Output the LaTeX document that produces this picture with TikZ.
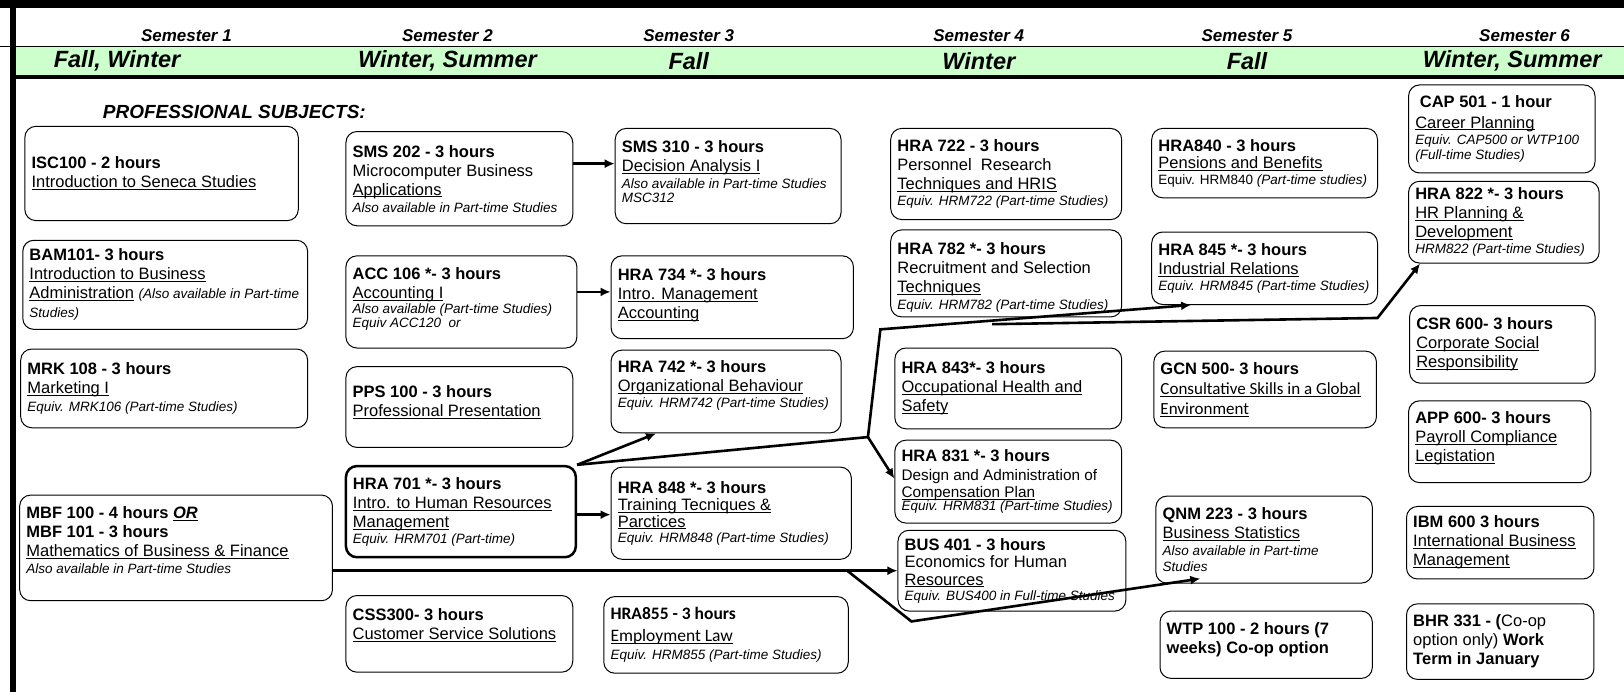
\documentclass[tikz,border=0pt]{standalone}
\usepackage{fontspec}
\setmainfont{Liberation Sans}
\newfontfamily\calibri{Carlito}
\usetikzlibrary{arrows.meta,fit}
\definecolor{bandgreen}{RGB}{204,255,204}
\newsavebox\ulbox
\newcommand\uline[1]{\sbox\ulbox{#1}\leavevmode\rlap{\usebox\ulbox}\rule[-2.3pt]{\wd\ulbox}{0.9pt}}
\def\course[#1](#2)(#3)(#4)#5{%
	\node[box,#1,fit={(#3) (#4)}] (#2) {};
	\node[txt,#1,draw=none] (#2-t) at ([xshift=7pt]#2.west) {#5};}
\newcommand\note[1]{{\fontsize{13.5}{15}\selectfont\rmfamily\itshape #1}}

\begin{document}
\begin{tikzpicture}[x=1.0357pt,y=-1.0357pt,
	box/.style={draw, rounded corners=11pt, line width=1pt, inner sep=0pt},
	txt/.style={anchor=west, align=left, inner sep=0pt, font=\fontsize{16.5}{19}\selectfont},
	arr/.style={line width=2.6pt, -{Latex[length=10pt,width=9pt]}},
	sem/.style={font=\fontsize{17}{19}\selectfont\bfseries\itshape},
	season/.style={font=\fontsize{23.5}{25}\selectfont\bfseries\itshape}]
			%%%%% START %%%%%
			\useasboundingbox (0,0) rectangle (1568,668);
			
			\fill[black] (0,0) rectangle (1568,8);
			\fill[bandgreen] (15,45) rectangle (1568,74);
			\draw[line width=1.5pt] (0,45) -- (1568,45);
			\draw[line width=4pt] (15,74.5) -- (1568,74.5);
			\fill[black] (10,0) rectangle (15,668);
			
			\node[sem] (sem1) at (180,34) {Semester 1};
			\node[sem] (sem2) at (432,34) {Semester 2};
			\node[sem] (sem3) at (665,34) {Semester 3};
			\node[sem] (sem4) at (945,34) {Semester 4};
			\node[sem] (sem5) at (1204,34) {Semester 5};
			\node[sem] (sem6) at (1472,34) {Semester 6};
			
			\node[season] (term1) at (113,59) {Fall, Winter};
			\node[season] (term2) at (432,59) {Winter, Summer};
			\node[season] (term3) at (665,59) {Fall};
			\node[season] (term4) at (945,59) {Winter};
			\node[season] (term5) at (1204,59) {Fall};
			\node[season] (term6) at (1460,59) {Winter, Summer};
			
			\node[anchor=west, font=\fontsize{19}{21}\selectfont\bfseries\itshape] (prof) at (96,108) {PROFESSIONAL SUBJECTS:};
			
			%%%%% SEMESTER 1 %%%%%
			\course[](isc)(24,122)(288,213){\textbf{ISC100 - 2 hours}\\\uline{Introduction to Seneca Studies}}
			\course[](bam)(22,232)(297,318){\textbf{BAM101- 3 hours}\\\uline{Introduction to Business}\\\uline{Administration} \note{(Also available in Part-time}\\\note{Studies)}}
			\course[](mrk)(20,337)(297,413){\textbf{MRK 108 - 3 hours}\\\uline{Marketing I}\\[-1.5pt]\note{Equiv. MRK106 (Part-time Studies)}}
			\course[](mbf)(19,478)(321,580){\textbf{MBF 100 - 4 hours \uline{\textit{OR}}}\\\textbf{MBF 101 - 3 hours}\\\uline{Mathematics of Business \& Finance}\\[-2pt]\note{Also available in Part-time Studies}\\[-3pt]\mbox{}}
			
			%%%%% SEMESTER 2 %%%%%
			\course[](sms202)(334,127)(553,218){\textbf{SMS 202 - 3 hours}\\Microcomputer Business\\\uline{Applications}\\[-2pt]\note{Also available in Part-time Studies}}
			\course[](acc)(334,247)(557,336){\textbf{ACC 106 *- 3 hours}\\\uline{Accounting I}\\[-4.5pt]\note{Also available (Part-time Studies)}\\[-4.5pt]\note{Equiv ACC120 \ or}\\[-11pt]\mbox{}}
			\course[](pps)(334,354)(553,432){\textbf{PPS 100 - 3 hours}\\\uline{Professional Presentation}\\[-7pt]\mbox{}}
			\course[line width=2.5pt](hra701)(334,450)(556,538){\textbf{HRA 701 *- 3 hours}\\\uline{Intro. to Human Resources}\\\uline{Management}\\[-3pt]\note{Equiv. HRM701 (Part-time)}}
			\course[](css)(334,575)(553,649){\textbf{CSS300- 3 hours}\\\uline{Customer Service Solutions}\\\mbox{}}
			
			%%%%% SEMESTER 3 %%%%%
			\course[](sms310)(594,124)(812,216){\textbf{SMS 310 - 3 hours}\\\uline{Decision Analysis I}\\[-2pt]\note{Also available in Part-time Studies}\\[-4.5pt]\note{MSC312}\\[-10pt]\mbox{}}
			\course[](hra734)(590,247)(824,327){\textbf{HRA 734 *- 3 hours}\\\uline{Intro. Management}\\\uline{Accounting}\\[-11pt]\mbox{}}
			\course[](hra742)(590,338)(812,418){\textbf{HRA 742 *- 3 hours}\\\uline{Organizational Behaviour}\\[-3pt]\note{Equiv. HRM742 (Part-time Studies)}\\[-4pt]\mbox{}}
			\course[](hra848)(590,451)(822,540){\textbf{HRA 848 *- 3 hours}\\[-1.5pt]\uline{Training Tecniques \&}\\[-2.5pt]\uline{Parctices}\\[-3.5pt]\note{Equiv. HRM848 (Part-time Studies)}}
			\course[font=\calibri\fontsize{17.5}{21.5}\selectfont](hra855)(583,576)(819,650){\textbf{HRA855 - 3 hours}\\\uline{Employment Law}\\[-3pt]\note{Equiv. HRM855 (Part-time Studies)}}
			
			%%%%% SEMESTER 4 %%%%%
			\course[](hra722)(860,124)(1083,212){\textbf{HRA 722 - 3 hours}\\Personnel\ \ Research\\\uline{Techniques and HRIS}\\[-3pt]\note{Equiv. HRM722 (Part-time Studies)}}
			\course[](hra782)(860,222)(1083,306){\mbox{}\\[1pt]\textbf{HRA 782 *- 3 hours}\\Recruitment and Selection\\\uline{Techniques}\\[-2pt]\note{Equiv. HRM782 (Part-time Studies)}}
			\course[](hra843)(864,336)(1083,414){\textbf{HRA 843*- 3 hours}\\\uline{Occupational Health and}\\\uline{Safety}}
			\course[font=\fontsize{15.3}{17}\selectfont](hra831)(864,425)(1083,505){{\fontsize{16.5}{19}\selectfont\textbf{HRA 831 *- 3 hours}}\\[2.5pt]Design and Administration of\\[-0.5pt]\uline{Compensation Plan}\\[-3.5pt]\note{Equiv. HRM831 (Part-time Studies)}}
			\course[](bus401)(867,512)(1087,590){\textbf{BUS 401 - 3 hours}\\[-1.5pt]Economics for Human\\[-1.5pt]\uline{Resources}\\[-3.5pt]\note{Equiv. BUS400 in Full-time Studies}}
			
			%%%%% SEMESTER 5 %%%%%
			\course[](hra840)(1112,124)(1330,191){\textbf{HRA840 - 3 hours}\\[-2pt]\uline{Pensions and Benefits}\\[-3pt]{\fontsize{13.5}{15}\selectfont Equiv. HRM840 \textit{(Part-time studies)}}}
			\course[](hra845)(1112,224)(1330,294){\textbf{HRA 845 *- 3 hours}\\\uline{Industrial Relations}\\[-3pt]\note{Equiv. HRM845 (Part-time Studies)}}
			\course[](gcn)(1114,339)(1329,413){\textbf{GCN 500- 3 hours}\\[1.5pt]{\calibri\fontsize{17}{20}\selectfont\uline{Consultative Skills in a Global}}\\[1pt]{\calibri\fontsize{17}{20}\selectfont\uline{Environment}}}
			\course[](qnm)(1116,479)(1325,563){\textbf{QNM 223 - 3 hours}\\\uline{Business Statistics}\\[-2pt]\note{Also available in Part-time}\\[-3.5pt]\note{Studies}}
			\course[](wtp)(1120,590)(1325,655){\textbf{WTP 100 - 2 hours (7}\\\textbf{weeks) Co-op option}\\[-6pt]\mbox{}}
			
			%%%%% SEMESTER 6 %%%%%
			\course[](cap)(1360,82)(1540,167){\textbf{\ CAP 501 - 1 hour}\\[1.5pt]\uline{Career Planning}\\[-3pt]\note{Equiv. CAP500 or WTP100}\\[-3.5pt]\note{(Full-time Studies)}}
			\course[](hra822)(1360,175)(1544,254){\textbf{HRA 822 *- 3 hours}\\\uline{HR Planning \&}\\\uline{Development}\\[-3pt]\note{HRM822 (Part-time Studies)}}
			\course[](csr)(1361,295)(1540,370){\textbf{CSR 600- 3 hours}\\\uline{Corporate Social}\\\uline{Responsibility}}
			\course[](app)(1360,387)(1536,466){\textbf{APP 600- 3 hours}\\\uline{Payroll Compliance}\\\uline{Legistation}\\[-8pt]\mbox{}}
			\course[](ibm)(1358,489)(1539,559){\textbf{IBM 600 3 hours}\\\uline{International Business}\\\uline{Management}}
			\course[](bhr)(1358,583)(1539,656){\textbf{BHR 331 - (}Co-op\\option only) \textbf{Work}\\\textbf{Term in January}}
			
			%%%%% ARROWS %%%%%
			\coordinate (j1) at (838,422);
			\coordinate (j2) at (850,318);
			\coordinate (j3) at (958,313);
			\coordinate (j4) at (1330,307);
			\coordinate (j5) at (818,551);
			\coordinate (j6) at (880,600);
			
			\draw[arr] ([yshift=15pt]sms202.east) -- ([yshift=15pt]sms202.east -| sms310.west);
			\draw[arr] ([yshift=10pt]acc.east) -- ([yshift=10pt]acc.east -| hra734.west);
			\draw[arr] ([yshift=-3pt]hra701.east) -- ([yshift=-3pt]hra701.east -| hra848.west);
			\draw[arr] (hra701.north east) -- ([xshift=-70pt]hra742.south);
			\draw[arr] (hra701.north east) -- (j1) -- (j2) -- ([xshift=-73.5pt]hra845.south);
			\draw[arr] (j1) -- ([yshift=3pt]hra831.west);
			\draw[arr] (j3) -- (j4) -- ([xshift=12pt]hra822.south west);
			\draw[arr] (mbf.east |- bus401.west) -- (bus401.west);
			\draw[arr] (j5) -- (j6) -- ([shift={(45pt,5pt)}]qnm.south west);
			
			%%%%% END %%%%%
\end{tikzpicture}
\end{document}
